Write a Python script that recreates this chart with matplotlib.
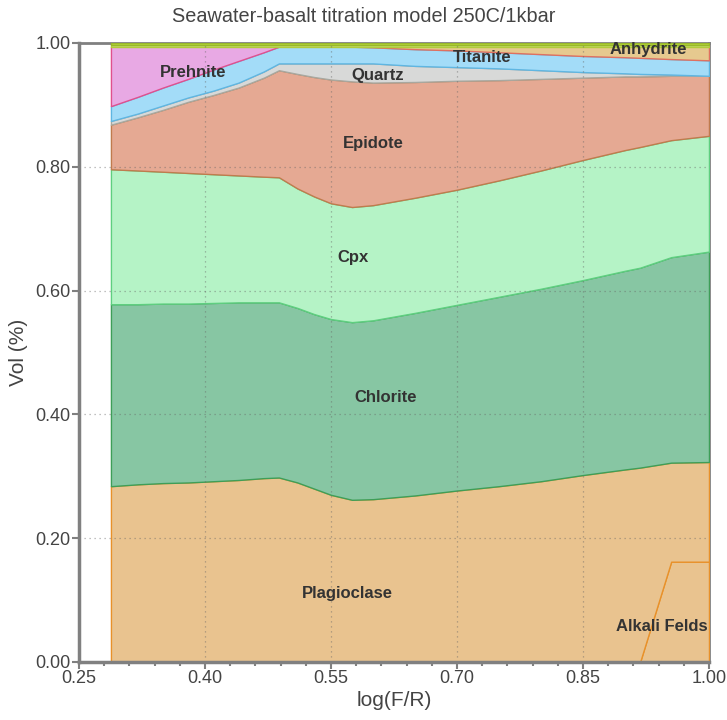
import numpy as np
import matplotlib.pyplot as plt
from matplotlib.ticker import FixedLocator, FormatStrFormatter

plt.rcParams['font.family'] = ['Liberation Sans', 'DejaVu Sans']

# reaction progress log(F/R)
logfr = np.array([0.288, 0.32, 0.35, 0.38, 0.41, 0.44, 0.47, 0.488, 0.51, 0.53, 0.55,
                  0.575, 0.60, 0.65, 0.70, 0.75, 0.80, 0.85, 0.90, 0.918, 0.955, 1.0])

# cumulative tops of each phase
alkali_top = [0, 0, 0, 0, 0, 0, 0, 0, 0, 0, 0,
              0, 0, 0, 0, 0, 0, 0, 0, 0, 0.162, 0.162]
plag_top = [0.284, 0.287, 0.289, 0.290, 0.292, 0.294, 0.297, 0.298, 0.290, 0.280, 0.270,
            0.262, 0.263, 0.269, 0.277, 0.284, 0.292, 0.302, 0.311, 0.314, 0.322, 0.323]
chlorite_top = [0.578, 0.578, 0.579, 0.579, 0.580, 0.581, 0.581, 0.581, 0.572, 0.562, 0.554,
                0.549, 0.552, 0.564, 0.577, 0.590, 0.603, 0.617, 0.632, 0.637, 0.654, 0.663]
cpx_top = [0.796, 0.794, 0.792, 0.790, 0.788, 0.786, 0.784, 0.783, 0.765, 0.752, 0.741,
           0.735, 0.738, 0.750, 0.763, 0.778, 0.794, 0.811, 0.827, 0.832, 0.843, 0.850]
epidote_top = [0.868, 0.880, 0.892, 0.905, 0.916, 0.928, 0.944, 0.956, 0.950, 0.945, 0.941,
               0.938, 0.936, 0.937, 0.939, 0.940, 0.942, 0.944, 0.946, 0.946, 0.947, 0.947]
quartz_top = [0.874, 0.886, 0.899, 0.912, 0.923, 0.936, 0.954, 0.967, 0.967, 0.967, 0.967,
              0.967, 0.967, 0.963, 0.961, 0.959, 0.956, 0.953, 0.951, 0.950, 0.949, 0.947]
titanite_top = [0.898, 0.913, 0.928, 0.942, 0.957, 0.971, 0.985, 0.994, 0.994, 0.994, 0.994,
                0.994, 0.993, 0.990, 0.988, 0.985, 0.982, 0.979, 0.977, 0.976, 0.974, 0.972]
prehnite_top = [0.994, 0.994, 0.994, 0.994, 0.994, 0.994, 0.994, 0.994, 0.994, 0.994, 0.994,
                0.994, 0.993, 0.990, 0.988, 0.985, 0.982, 0.979, 0.977, 0.976, 0.974, 0.972]
anhydrite_top = [0.994] * len(logfr)
minor1_top = [0.997] * len(logfr)
minor2_top = [1.0] * len(logfr)

layers = [
    ('Alkali Feldspar', alkali_top, '#e9c38f', '#e8912a'),
    ('Plagioclase', plag_top, '#e9c38f', '#e8912a'),
    ('Chlorite', chlorite_top, '#87c6a3', '#3e9e58'),
    ('Cpx', cpx_top, '#b5f3c6', '#5fcf80'),
    ('Epidote', epidote_top, '#e5a993', '#c07b4e'),
    ('Quartz', quartz_top, '#d8d9d8', '#a8a8a0'),
    ('Titanite', titanite_top, '#a3dcf8', '#5fb6e2'),
    ('Prehnite', prehnite_top, '#e8a9e4', '#e0508e'),
    ('Anhydrite', anhydrite_top, '#e6c98f', '#e07060'),
    ('minor1', minor1_top, '#cfe07a', '#b0cc3a'),
    ('minor2', minor2_top, '#b8d83a', '#98b82a'),
]

fig = plt.figure(figsize=(7.27, 7.2), dpi=100)
ax = fig.add_axes([0.1087, 0.0806, 0.8665, 0.8597])

bottom = np.zeros(len(logfr))
for name, top, face, edge in layers:
    top = np.array(top)
    mask = None
    if name == 'Prehnite':
        mask = logfr <= 0.488
    elif name == 'Anhydrite':
        mask = logfr >= 0.575
    ax.fill_between(logfr, bottom, top, where=mask, facecolor=face,
                    edgecolor=edge, linewidth=1.0, zorder=2)
    bottom = np.maximum(bottom, top)

# labels
lab = dict(fontsize=12, fontweight='bold', color='#333333', ha='center',
           va='center', zorder=6)
ax.text(0.386, 0.953, 'Prehnite', **lab)
ax.text(0.606, 0.947, 'Quartz', **lab)
ax.text(0.730, 0.976, 'Titanite', **lab)
ax.text(0.928, 0.989, 'Anhydrite', **lab)
ax.text(0.600, 0.838, 'Epidote', **lab)
ax.text(0.576, 0.653, 'Cpx', **lab)
ax.text(0.615, 0.428, 'Chlorite', **lab)
ax.text(0.570, 0.110, 'Plagioclase', **lab)
ax.text(0.998, 0.058, 'Alkali Felds', fontsize=12, fontweight='bold',
        color='#333333', ha='right', va='center', zorder=6)

ax.set_xlim(0.25, 1.0)
ax.set_ylim(0.0, 1.0)
majors = [0.25, 0.40, 0.55, 0.70, 0.85, 1.00]
ax.xaxis.set_major_locator(FixedLocator(majors))
ax.xaxis.set_minor_locator(FixedLocator([v for v in np.arange(0.25, 1.001, 0.03)
                                         if min(abs(v - m) for m in majors) > 0.005]))
ax.yaxis.set_major_locator(FixedLocator([0, 0.2, 0.4, 0.6, 0.8, 1.0]))
ax.xaxis.set_major_formatter(FormatStrFormatter('%.2f'))
ax.yaxis.set_major_formatter(FormatStrFormatter('%.2f'))
ax.tick_params(which='both', colors='#808080', labelcolor='#444444', labelsize=13)
ax.tick_params(which='major', length=5, width=1.5, pad=1)
ax.tick_params(which='minor', length=3, width=1.5)

for v in [0.40, 0.55, 0.70, 0.85]:
    ax.axvline(v, color='#666666', alpha=0.55, linestyle=(0, (1, 3)), linewidth=0.9, zorder=4)
for v in [0.2, 0.4, 0.6, 0.8]:
    ax.axhline(v, color='#666666', alpha=0.55, linestyle=(0, (1, 3)), linewidth=0.9, zorder=4)

for s in ['left', 'bottom']:
    ax.spines[s].set_color('#808080')
    ax.spines[s].set_linewidth(2.5)
    ax.spines[s].set_zorder(5)
for s in ['top', 'right']:
    ax.spines[s].set_color('#808080')
    ax.spines[s].set_linewidth(2.0)
    ax.spines[s].set_zorder(1)

ax.set_xlabel('log(F/R)', fontsize=15, color='#444444', labelpad=3)
ax.set_ylabel('Vol (%)', fontsize=15, color='#444444', labelpad=5)
fig.suptitle('Seawater-basalt titration model 250C/1kbar', fontsize=14.3,
             color='#444444', y=0.99)

fig.savefig('out.png', dpi=100)
